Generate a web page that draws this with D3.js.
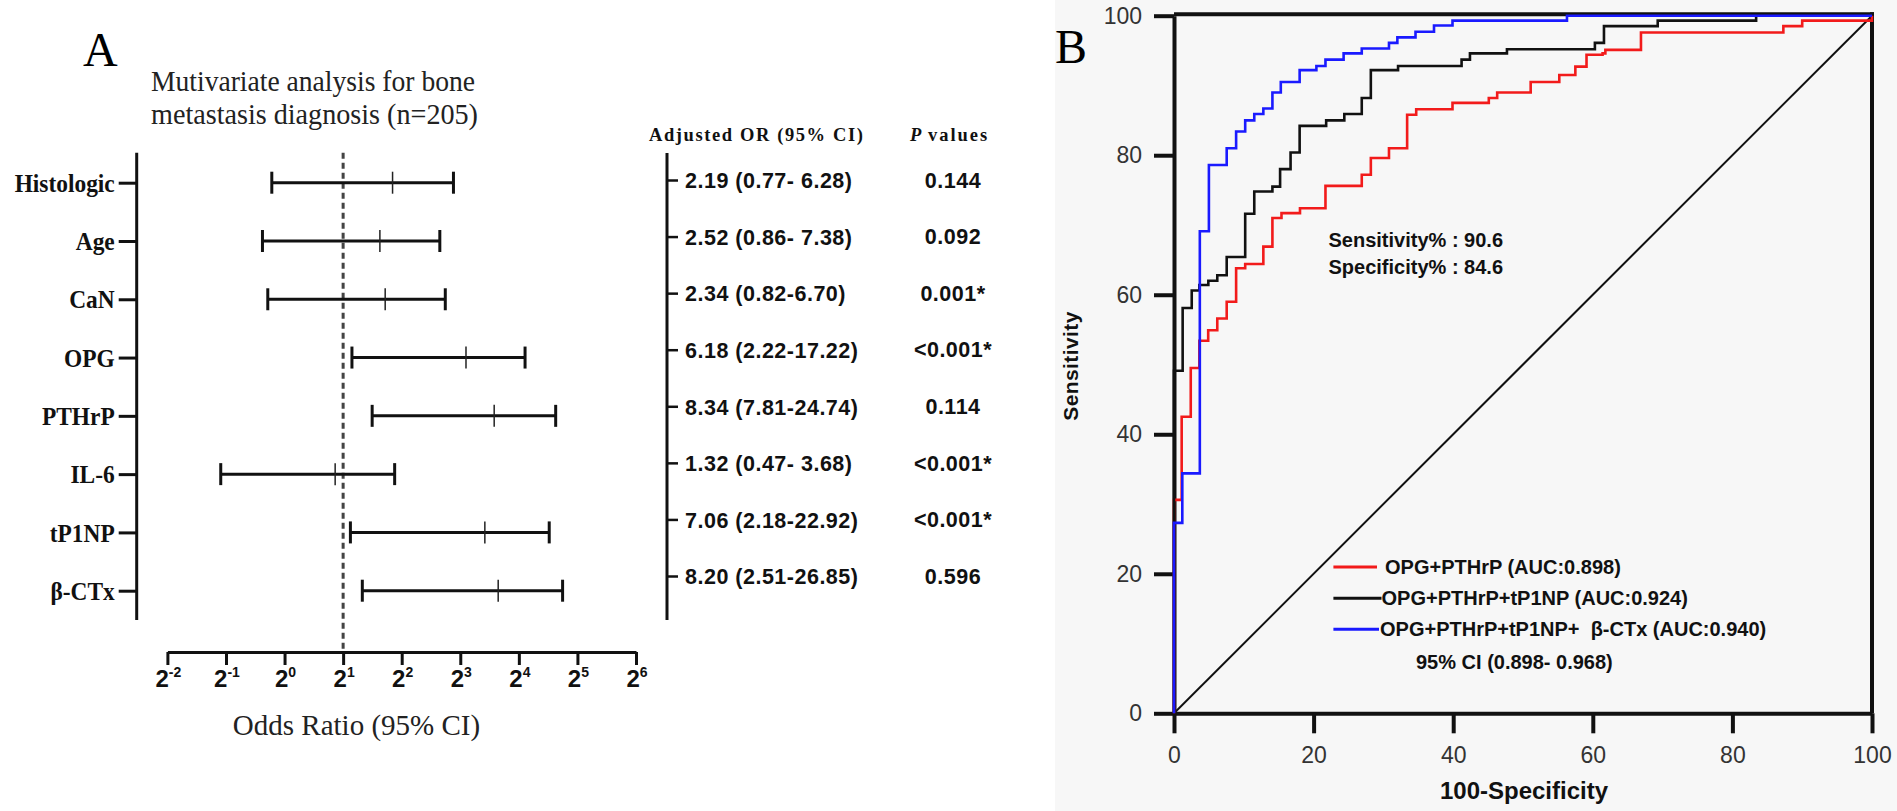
<!DOCTYPE html>
<html><head><meta charset="utf-8">
<script src="https://cdn.jsdelivr.net/npm/d3@7"></script>
<style>
html,body{margin:0;padding:0;background:#fff;}
svg{display:block;}
</style></head>
<body>
<svg id="chart" width="1897" height="811"></svg>
<script>
// ---------- Panel A data ----------
const forestLabels = ["Histologic","Age","CaN","OPG","PTHrP","IL-6","tP1NP","β-CTx"];
const orLow  = [0.86, 0.77, 0.82, 2.22, 2.82, 0.47, 2.18, 2.51];
const orMid  = [3.59, 3.09, 3.29, 8.56, 11.95, 1.82, 10.70, 12.53];
const orHigh = [7.38, 6.28, 6.70, 17.22, 24.74, 3.68, 22.92, 26.85];
const tableOR = ["2.19 (0.77- 6.28)","2.52 (0.86- 7.38)","2.34 (0.82-6.70)","6.18 (2.22-17.22)",
                 "8.34 (7.81-24.74)","1.32 (0.47- 3.68)","7.06 (2.18-22.92)","8.20 (2.51-26.85)"];
const pValues = ["0.144","0.092","0.001*","<0.001*","0.114","<0.001*","<0.001*","0.596"];
const xExponents = [-2,-1,0,1,2,3,4,5,6];
const refLine = 2;

// ---------- Panel B data (ROC operating points, % units) ----------
const redFpr = [0,0,1.1,2.4,3.63,4.9,6.2,7.55,8.9,10.2,12.8,14.1,15.4,18.05,21.7,26.9,28.2,30.8,33.4,34.7,39.9,45.1,46.3,51.1,55.2,57.5,59.1,61.4,61.8,66.9,87.3,90.0,100];
const redTpr = [0,30.6,42.5,49.5,53.4,54.9,56.6,59.0,63.8,64.4,66.9,71.0,71.7,72.4,75.6,77.2,79.6,81.0,85.8,86.6,87.5,88.2,89.0,90.5,91.5,92.7,94.4,94.6,95.1,97.6,98.5,99.3,100];
const blackFpr = [0,0,1.24,2.54,3.63,4.92,6.2,7.55,10.2,11.5,14.1,15.2,16.7,18.0,21.8,24.4,26.9,28.2,32.1,41.2,42.4,47.7,60.3,61.6,69.3,83.4,100];
const blackTpr = [0,49.1,58.1,60.6,61.4,62.0,62.8,65.4,71.6,74.8,75.5,78.0,80.4,84.2,85.0,85.9,88.2,92.2,92.8,93.7,94.6,95.2,96.1,98.5,99.3,100,100];
const blueFpr = [0,0,1.19,3.7,3.7,5.0,7.55,8.9,10.2,11.5,12.8,14.1,15.3,18.0,20.4,21.7,24.3,26.9,30.8,32.0,34.6,37.25,39.9,56.3,100];
const blueTpr = [0,27.3,34.4,35.9,69.1,78.6,81.0,83.4,85.0,85.9,86.7,89.0,90.5,92.2,92.8,93.7,94.6,95.3,96.1,96.9,97.7,98.6,99.3,100,100];
const rocTicks = [0,20,40,60,80,100];
const legendNames = ["OPG+PTHrP (AUC:0.898)","OPG+PTHrP+tP1NP (AUC:0.924)","OPG+PTHrP+tP1NP+  β-CTx (AUC:0.940)"];
const legendColors = ["#f21b1b","#111111","#1a1aff"];
const ciText = "95% CI (0.898- 0.968)";
const cutoffText = ["Sensitivity% : 90.6","Specificity% : 84.6"];

const SERIF = "'Liberation Serif','Times New Roman',serif";
const SANS = "'Liberation Sans',Arial,sans-serif";

const svg = d3.select("#chart");
svg.append("rect").attr("x",0).attr("y",0).attr("width",1897).attr("height",811).attr("fill","#ffffff");
svg.append("rect").attr("x",1055).attr("y",0).attr("width",842).attr("height",811).attr("fill","#f7f7f7");

// ================= Panel A =================
const gA = svg.append("g");
gA.append("text").attr("x",83).attr("y",66).attr("font-family",SERIF).attr("font-size",48).text("A");
gA.append("text").attr("x",151).attr("y",91).attr("font-family",SERIF).attr("font-size",29).attr("fill","#222")
  .attr("textLength",324).attr("lengthAdjust","spacingAndGlyphs").text("Mutivariate analysis for bone");
gA.append("text").attr("x",151).attr("y",124).attr("font-family",SERIF).attr("font-size",29).attr("fill","#222")
  .attr("textLength",327).attr("lengthAdjust","spacingAndGlyphs").text("metastasis diagnosis (n=205)");

const xA = d3.scaleLog().base(2).domain([0.25,64]).range([167.4,636]);
const yA = d3.scalePoint().domain(forestLabels).range([182.7,590.7]);

// left axis
const axL = gA.append("g").attr("transform","translate(136.7,0)")
  .call(d3.axisLeft(yA).tickSize(18).tickSizeOuter(0).tickPadding(4));
axL.select(".domain").remove();
axL.selectAll(".tick line").attr("stroke","#111").attr("stroke-width",3);
axL.selectAll(".tick text").attr("font-family",SERIF).attr("font-weight","bold").attr("font-size",26)
  .attr("fill","#111").attr("dy","0.33em")
  .attr("transform", function(){ return "translate(-22,0) scale(0.9,1) translate(22,0)"; });
gA.append("line").attr("x1",136.7).attr("x2",136.7).attr("y1",152.7).attr("y2",620)
  .attr("stroke","#111").attr("stroke-width",3);

// bottom axis
const tickVals = xExponents.map(e => Math.pow(2,e));
const axB = gA.append("g").attr("transform","translate(0,652)")
  .call(d3.axisBottom(xA).tickValues(tickVals).tickSize(13).tickSizeOuter(0).tickFormat(() => ""));
axB.select(".domain").attr("stroke","#111").attr("stroke-width",3);
axB.selectAll(".tick line").attr("stroke","#111").attr("stroke-width",3);
xExponents.forEach(e => {
  const t = gA.append("text").attr("x",xA(Math.pow(2,e))+1).attr("y",687).attr("text-anchor","middle")
    .attr("font-family",SANS).attr("font-weight","bold").attr("fill","#111");
  t.append("tspan").attr("font-size",24).text("2");
  t.append("tspan").attr("font-size",14).attr("dy",-10).text(e < 0 ? "-" + Math.abs(e) : String(e));
});
gA.append("text").attr("x",356.5).attr("y",735).attr("text-anchor","middle").attr("font-family",SERIF)
  .attr("font-size",29).attr("fill","#222").text("Odds Ratio (95% CI)");

// reference dashed line
gA.append("line").attr("x1",xA(refLine)).attr("x2",xA(refLine)).attr("y1",152.7).attr("y2",652)
  .attr("stroke","#444").attr("stroke-width",3).attr("stroke-dasharray","6,4");

// error bars
const rows = forestLabels.map((k,i) => ({k, lo:orLow[i], mid:orMid[i], hi:orHigh[i]}));
const bars = gA.append("g").selectAll("g").data(rows).join("g");
bars.append("line").attr("x1",d=>xA(d.lo)).attr("x2",d=>xA(d.hi)).attr("y1",d=>yA(d.k)).attr("y2",d=>yA(d.k))
  .attr("stroke","#111").attr("stroke-width",3);
bars.append("line").attr("x1",d=>xA(d.lo)).attr("x2",d=>xA(d.lo)).attr("y1",d=>yA(d.k)-11).attr("y2",d=>yA(d.k)+11)
  .attr("stroke","#111").attr("stroke-width",3);
bars.append("line").attr("x1",d=>xA(d.hi)).attr("x2",d=>xA(d.hi)).attr("y1",d=>yA(d.k)-11).attr("y2",d=>yA(d.k)+11)
  .attr("stroke","#111").attr("stroke-width",3);
bars.append("line").attr("x1",d=>xA(d.mid)).attr("x2",d=>xA(d.mid)).attr("y1",d=>yA(d.k)-11).attr("y2",d=>yA(d.k)+11)
  .attr("stroke","#222").attr("stroke-width",1.5);

// table column
const yT = d3.scalePoint().domain(d3.range(tableOR.length)).range([180,576]);
const axT = gA.append("g").attr("transform","translate(667,0)")
  .call(d3.axisRight(yT).tickSize(11).tickSizeOuter(0).tickPadding(7).tickFormat(i => tableOR[i]));
axT.select(".domain").remove();
axT.selectAll(".tick line").attr("stroke","#111").attr("stroke-width",2.5);
axT.selectAll(".tick text").attr("font-family",SANS).attr("font-weight","bold").attr("font-size",21.5)
  .attr("letter-spacing",0.5).attr("fill","#111").attr("dy","0.36em");
gA.append("line").attr("x1",667).attr("x2",667).attr("y1",153).attr("y2",620)
  .attr("stroke","#111").attr("stroke-width",3);
gA.append("g").selectAll("text").data(pValues).join("text")
  .attr("x",953).attr("y",(d,i)=>yT(i)+7.7).attr("text-anchor","middle")
  .attr("font-family",SANS).attr("font-weight","bold").attr("font-size",21.5).attr("letter-spacing",0.5)
  .attr("fill","#111").text(d=>d);
gA.append("text").attr("x",649).attr("y",141).attr("font-family",SERIF).attr("font-weight","bold")
  .attr("font-size",18.5).attr("letter-spacing",1.6).attr("fill","#111").text("Adjusted OR (95% CI)");
const pv = gA.append("text").attr("x",910).attr("y",141).attr("font-family",SERIF).attr("font-weight","bold")
  .attr("font-size",18.5).attr("fill","#111");
pv.append("tspan").attr("font-style","italic").text("P");
pv.append("tspan").attr("letter-spacing",2).text(" values");

// ================= Panel B =================
const gB = svg.append("g");
gB.append("text").attr("x",1055).attr("y",63).attr("font-family",SERIF).attr("font-size",48).text("B");

const xB = d3.scaleLinear().domain([0,100]).range([1174,1872]);
const yB = d3.scaleLinear().domain([0,100]).range([713.3,15.7]);

const ayB = gB.append("g").attr("transform","translate(1174,0)")
  .call(d3.axisLeft(yB).tickValues(rocTicks).tickSize(20).tickSizeOuter(0).tickPadding(12));
ayB.select(".domain").attr("stroke","#111").attr("stroke-width",4);
ayB.selectAll(".tick line").attr("stroke","#111").attr("stroke-width",4);
ayB.selectAll(".tick text").attr("font-family",SANS).attr("font-size",23).attr("fill","#333");

const axBB = gB.append("g").attr("transform","translate(0,713.3)")
  .call(d3.axisBottom(xB).tickValues(rocTicks).tickSize(20).tickSizeOuter(0).tickPadding(13));
axBB.select(".domain").attr("stroke","#111").attr("stroke-width",4);
axBB.selectAll(".tick line").attr("stroke","#111").attr("stroke-width",4);
axBB.selectAll(".tick text").attr("font-family",SANS).attr("font-size",23).attr("fill","#333");

// frame: top and right
gB.append("line").attr("x1",xB(0)).attr("x2",xB(100)+2).attr("y1",yB(100)-1.5).attr("y2",yB(100)-1.5)
  .attr("stroke","#111").attr("stroke-width",4);
gB.append("line").attr("x1",xB(100)).attr("x2",xB(100)).attr("y1",yB(100)-3.5).attr("y2",yB(0))
  .attr("stroke","#111").attr("stroke-width",4);

// diagonal
gB.append("line").attr("x1",xB(0)).attr("y1",yB(0)).attr("x2",xB(100)).attr("y2",yB(100))
  .attr("stroke","#111").attr("stroke-width",2);

const line = d3.line().x(d=>xB(d[0])).y(d=>yB(d[1])).curve(d3.curveStepAfter);
const curves = [
  {fpr:redFpr, tpr:redTpr, c:legendColors[0]},
  {fpr:blackFpr, tpr:blackTpr, c:legendColors[1]},
  {fpr:blueFpr, tpr:blueTpr, c:legendColors[2]}
];
curves.forEach(cv => {
  gB.append("path").attr("d", line(cv.fpr.map((f,i)=>[f, cv.tpr[i]])))
    .attr("fill","none").attr("stroke",cv.c).attr("stroke-width",2.6).attr("stroke-linejoin","miter");
});

// axis titles
gB.append("text").attr("x",1524).attr("y",799).attr("text-anchor","middle").attr("font-family",SANS)
  .attr("font-weight","bold").attr("font-size",24).attr("fill","#111").text("100-Specificity");
gB.append("text").attr("transform","translate(1078,366) rotate(-90)").attr("text-anchor","middle")
  .attr("font-family",SANS).attr("font-weight","bold").attr("font-size",21).attr("letter-spacing",0.4)
  .attr("fill","#111").text("Sensitivity");

// cutoff annotation
gB.append("g").selectAll("text").data(cutoffText).join("text")
  .attr("x",1328.5).attr("y",(d,i)=>247+i*27).attr("font-family",SANS).attr("font-weight","bold")
  .attr("font-size",20).attr("fill","#111").text(d=>d);

// legend
const legY = [567, 598.3, 629.3];
const legX2 = [1377, 1381.5, 1379];
const legTX = [1385, 1381.5, 1380];
legendNames.forEach((n,i) => {
  gB.append("line").attr("x1",1333.4).attr("x2",legX2[i]).attr("y1",legY[i]).attr("y2",legY[i])
    .attr("stroke",legendColors[i]).attr("stroke-width",3);
  gB.append("text").attr("x",legTX[i]).attr("y",legY[i]+7).attr("font-family",SANS).attr("font-weight","bold")
    .attr("font-size",20).attr("fill","#111").attr("xml:space","preserve").text(n);
});
gB.append("text").attr("x",1416).attr("y",669).attr("font-family",SANS).attr("font-weight","bold")
  .attr("font-size",20).attr("fill","#111").text(ciText);
</script>
</body></html>
